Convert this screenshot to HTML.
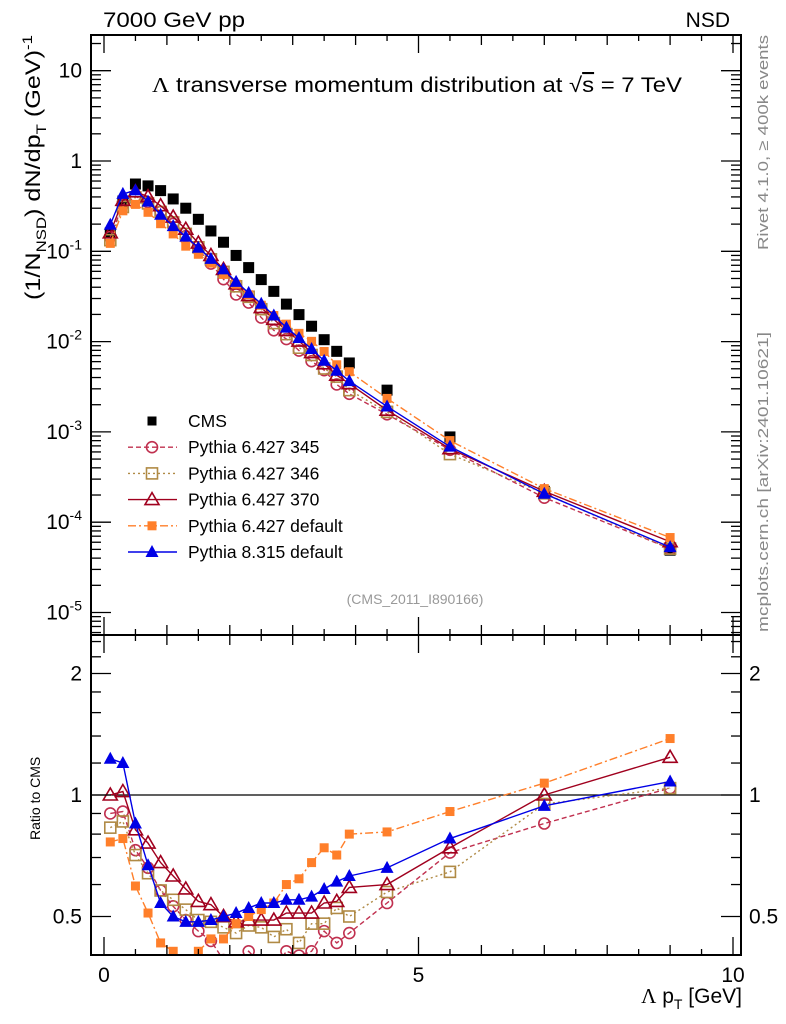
<!DOCTYPE html>
<html><head><meta charset="utf-8">
<style>
html,body{margin:0;padding:0;background:#fff;}
svg{display:block;font-family:"Liberation Sans",sans-serif;}
</style></head>
<body>
<svg id="chart" width="786" height="1024" viewBox="0 0 786 1024" xmlns="http://www.w3.org/2000/svg">
<rect x="0" y="0" width="786" height="1024" fill="#fff"/>
<g id="main-marks"></g>
<g id="ratio-marks"></g>
<g id="axes"></g>
<text x="103" y="27" font-size="21" textLength="142" lengthAdjust="spacingAndGlyphs">7000 GeV pp</text>
<text x="730" y="27" font-size="21" text-anchor="end">NSD</text>
<text x="152" y="92" font-size="21" textLength="530" lengthAdjust="spacingAndGlyphs"><tspan font-family="Liberation Serif">Λ</tspan> transverse momentum distribution at √<tspan text-decoration="overline">s</tspan> = 7 TeV</text>
<text transform="translate(40,300) rotate(-90)" font-size="21" textLength="265" lengthAdjust="spacingAndGlyphs">(1/N<tspan font-size="14" dy="6">NSD</tspan><tspan dy="-6">) dN/dp</tspan><tspan font-size="14" dy="6">T</tspan><tspan dy="-6"> (GeV)</tspan><tspan font-size="14" dy="-8">-1</tspan></text>
<text transform="translate(40,840) rotate(-90)" font-size="14">Ratio to CMS</text>
<text x="742" y="1003" font-size="21" text-anchor="end"><tspan font-family="Liberation Serif">Λ</tspan> p<tspan font-size="14" dy="6">T</tspan><tspan dy="-6"> [GeV]</tspan></text>
<text transform="translate(768,250) rotate(-90)" font-size="15" fill="#888" textLength="215" lengthAdjust="spacingAndGlyphs">Rivet 4.1.0, ≥ 400k events</text>
<text transform="translate(768,632) rotate(-90)" font-size="15" fill="#888" textLength="300" lengthAdjust="spacingAndGlyphs">mcplots.cern.ch [arXiv:2401.10621]</text>
<text x="415" y="604" font-size="14" fill="#999" text-anchor="middle">(CMS_2011_I890166)</text>
<g id="legend"></g>
</svg>
<script>
const xVals = [0.1,0.3,0.5,0.7,0.9,1.1,1.3,1.5,1.7,1.9,2.1,2.3,2.5,2.7,2.9,3.1,3.3,3.5,3.7,3.9,4.5,5.5,7,9];
const cmsVals = [0.16,0.36,0.556,0.53,0.47,0.38,0.30,0.226,0.168,0.126,0.090,0.066,0.0486,0.036,0.026,0.0199,0.0148,0.0105,0.0078,0.0058,0.0029,0.00088,0.00022,0.000049];
const ratio345 = [0.90,0.91,0.73,0.66,0.58,0.53,0.49,0.46,0.435,0.39,0.37,0.41,0.38,0.37,0.41,0.40,0.41,0.46,0.43,0.455,0.54,0.72,0.85,1.04];
const ratio346 = [0.83,0.86,0.71,0.64,0.58,0.55,0.52,0.49,0.485,0.47,0.455,0.475,0.47,0.445,0.465,0.43,0.48,0.48,0.525,0.50,0.575,0.645,0.95,1.04];
const ratio370 = [1.0,1.02,0.82,0.76,0.68,0.63,0.585,0.545,0.535,0.50,0.485,0.49,0.49,0.49,0.51,0.51,0.51,0.54,0.545,0.59,0.60,0.74,1.0,1.24];
const ratioDef6 = [0.765,0.78,0.595,0.51,0.43,0.41,0.38,0.41,0.44,0.44,0.48,0.50,0.52,0.54,0.60,0.62,0.68,0.74,0.71,0.80,0.81,0.91,1.07,1.38];
const ratioP8 = [1.23,1.20,0.85,0.67,0.54,0.50,0.485,0.485,0.49,0.50,0.51,0.525,0.54,0.54,0.55,0.55,0.56,0.585,0.61,0.63,0.66,0.78,0.94,1.08];
const xTickLabels = ["0","5","10"];
const yTickLabels = ["10^-5","10^-4","10^-3","10^-2","10^-1","1","10"];
const ratioTickLabels = ["0.5","1","2"];

const NS="http://www.w3.org/2000/svg";
const L=91,R=741,T=35,MID=635,B=955;
const xs=v=>104+62.9*v;
const ys=v=>161-90.3*Math.log10(v);
const yr=v=>795-121.5*Math.log2(v);
function mk(tag,attrs,parent){const e=document.createElementNS(NS,tag);for(const k in attrs)e.setAttribute(k,attrs[k]);parent.appendChild(e);return e;}
const mainG=document.getElementById('main-marks'),ratG=document.getElementById('ratio-marks'),axG=document.getElementById('axes'),legG=document.getElementById('legend');

const series=[
 {name:'pythia-6427-345',ratio:ratio345,color:'#c0304f',dash:'5,3',marker:'circle',label:'Pythia 6.427 345'},
 {name:'pythia-6427-346',ratio:ratio346,color:'#b08a45',dash:'2,3',marker:'osquare',label:'Pythia 6.427 346'},
 {name:'pythia-6427-370',ratio:ratio370,color:'#a0001e',dash:'',marker:'otri',label:'Pythia 6.427 370'},
 {name:'pythia-6427-default',ratio:ratioDef6,color:'#ff7f2a',dash:'8,3,2,3',marker:'fsquare',label:'Pythia 6.427 default'},
 {name:'pythia-8315-default',ratio:ratioP8,color:'#0000e6',dash:'',marker:'ftri',label:'Pythia 8.315 default'}
];
function marker(g,type,x,y,c){
 let e;
 if(type==='circle')e=mk('circle',{cx:x,cy:y,r:5.5,fill:'none',stroke:c,'stroke-width':1.6},g);
 else if(type==='osquare')e=mk('rect',{x:x-5.5,y:y-5.5,width:11,height:11,fill:'none',stroke:c,'stroke-width':1.6},g);
 else if(type==='fsquare')e=mk('rect',{x:x-4.5,y:y-4.5,width:9,height:9,fill:c},g);
 else if(type==='bsquare')e=mk('rect',{x:x-5.5,y:y-5.5,width:11,height:11,fill:c},g);
 else if(type==='otri')e=mk('polygon',{points:`${x},${y-7} ${x-7},${y+5} ${x+7},${y+5}`,fill:'none',stroke:c,'stroke-width':1.6},g);
 else e=mk('polygon',{points:`${x},${y-7} ${x-6.5},${y+5} ${x+6.5},${y+5}`,fill:c},g);
 return e;
}
const defs=mk('defs',{},document.getElementById('chart'));
const cp1=mk('clipPath',{id:'clipMain'},defs);mk('rect',{x:L,y:T,width:R-L,height:MID-T},cp1);
const cp2=mk('clipPath',{id:'clipRatio'},defs);mk('rect',{x:L,y:MID,width:R-L,height:B-MID},cp2);
mainG.setAttribute('clip-path','url(#clipMain)');
ratG.setAttribute('clip-path','url(#clipRatio)');

cmsVals.forEach((v,i)=>{
 const e=marker(mainG,'bsquare',xs(xVals[i]),ys(v),'#000');
 
 
});
const ref=mk('line',{x1:L,x2:R,y1:yr(1),y2:yr(1),stroke:'#000','stroke-width':1.2},ratG);



series.forEach(s=>{
 const gm=mk('g',{},mainG);
 
 
 const gr=mk('g',{},ratG);
 
 
 const pm=xVals.map((x,i)=>xs(x)+','+ys(cmsVals[i]*s.ratio[i])).join(' ');
 const pr=xVals.map((x,i)=>xs(x)+','+yr(s.ratio[i])).join(' ');
 const l1=mk('polyline',{points:pm,fill:'none',stroke:s.color,'stroke-width':1.4,'stroke-dasharray':s.dash},gm);
 
 
 const l2=mk('polyline',{points:pr,fill:'none',stroke:s.color,'stroke-width':1.4,'stroke-dasharray':s.dash},gr);
 
 
 xVals.forEach((x,i)=>{
  const a=marker(gm,s.marker,xs(x),ys(cmsVals[i]*s.ratio[i]),s.color);
  
  
  const b=marker(gr,s.marker,xs(x),yr(s.ratio[i]),s.color);
  
  
 });
});

[[T,MID],[MID,B]].forEach(([t,b],k)=>{
 const f=mk('rect',{x:L,y:t,width:R-L,height:b-t,fill:'none',stroke:'#000','stroke-width':2},axG);
 
 
 for(let v=0;v<=10.01;v+=0.5){
  const X=xs(v);const len=(Math.abs(v%5)<0.01)?18:(Math.abs(v%1)<0.01?10:6);
  mk('line',{x1:X,x2:X,y1:b,y2:b-len,stroke:'#000','stroke-width':1.3},axG);
  mk('line',{x1:X,x2:X,y1:t,y2:t+len,stroke:'#000','stroke-width':1.3},axG);
 }
});
xTickLabels.forEach(s=>{
 const t=mk('text',{x:xs(+s),y:982,'font-size':21,'text-anchor':'middle'},axG);t.textContent=s;
 
 
});
for(let d=-6;d<=1;d++){
 for(let m=1;m<10;m++){
  const v=m*Math.pow(10,d);const Y=ys(v);
  if(Y<T||Y>MID)continue;
  const len=m===1?20:10;
  mk('line',{x1:L,x2:L+len,y1:Y,y2:Y,stroke:'#000','stroke-width':1.3},axG);
  mk('line',{x1:R,x2:R-len,y1:Y,y2:Y,stroke:'#000','stroke-width':1.3},axG);
 }
}
yTickLabels.forEach(s=>{
 let v;
 const t=mk('text',{'font-size':21,'text-anchor':'end'},axG);
 if(s.indexOf('^')>=0){const e=+s.split('^')[1];v=Math.pow(10,e);
  t.setAttribute('x',82);t.setAttribute('y',ys(v)+7);
  const a=mk('tspan',{},t);a.textContent='10';
  const b=mk('tspan',{'font-size':14,dy:-9},t);b.textContent=String(e);
 } else {v=+s;t.setAttribute('x',82);t.setAttribute('y',ys(v)+7);t.textContent=s;}
 
 
});
const rt=[0.4,0.5,0.6,0.7,0.8,0.9,1,1.2,1.4,1.6,1.8,2,2.2,2.4];
rt.forEach(v=>{const Y=yr(v);if(Y<MID||Y>B)return;
 const len=(v===0.5||v===1||v===2)?20:10;
 mk('line',{x1:L,x2:L+len,y1:Y,y2:Y,stroke:'#000','stroke-width':1.3},axG);
 mk('line',{x1:R,x2:R-len,y1:Y,y2:Y,stroke:'#000','stroke-width':1.3},axG);
});
ratioTickLabels.forEach(s=>{
 const a=mk('text',{x:82,y:yr(+s)+7,'font-size':21,'text-anchor':'end'},axG);a.textContent=s;
 
 
 const b=mk('text',{x:749,y:yr(+s)+7,'font-size':21},axG);b.textContent=s;
 
 
});
const legRows=[{label:'CMS',color:'#000',marker:'bsquare',dash:null}].concat(series);
legRows.forEach((s,i)=>{
 const y=421+26.2*i;
 const g=mk('g',{},legG);
 
 
 if(s.dash!==null)mk('line',{x1:128,x2:177,y1:y,y2:y,stroke:s.color,'stroke-width':1.4,'stroke-dasharray':s.dash},g);
 marker(g,s.marker==='bsquare'?'fsquare':s.marker,152,y,s.color);
 const t=mk('text',{x:188,y:y+6,'font-size':17.5},g);t.textContent=s.label;
});
</script>
</body></html>
